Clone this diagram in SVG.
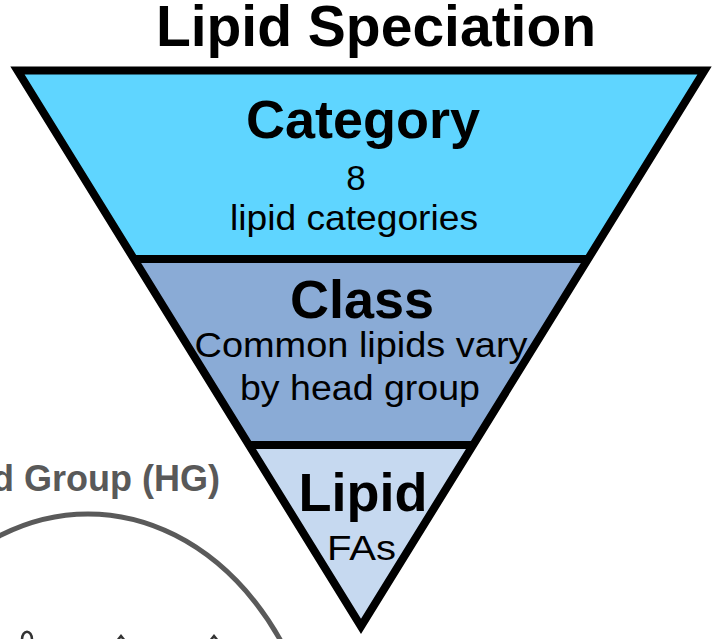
<svg xmlns="http://www.w3.org/2000/svg" width="712" height="639" viewBox="0 0 712 639">
<style>
.bold{font-family:"Liberation Sans",Arial,sans-serif;font-weight:bold;fill:#000;text-anchor:middle}
.reg{font-family:"Liberation Sans",Arial,sans-serif;font-size:35px;fill:#000;text-anchor:middle}
.edge{fill:none;stroke:#000;stroke-width:8;stroke-linejoin:miter;stroke-miterlimit:6}
.gray{stroke:#5a5a5a;fill:none}
</style>
<rect width="712" height="639" fill="#fff"/>
<g id="headgroup">
<text x="220" y="491" font-family="Liberation Sans, Arial, sans-serif" font-weight="bold" font-size="36" fill="#595959" text-anchor="end">d Group (HG)</text>
<ellipse cx="88" cy="814" rx="236" ry="300" class="gray" stroke-width="5"/>
<path d="M22,640 C22,629 32,629 32,640" fill="none" stroke="#333" stroke-width="2.5"/>
<path d="M117,641 L121,636 L125,641" fill="none" stroke="#333" stroke-width="2.5"/>
<path d="M210,641 L214,636 L218,641" fill="none" stroke="#333" stroke-width="2.5"/>
</g>
<text id="title" class="bold" x="376" y="46" font-size="57">Lipid Speciation</text>
<g id="category">
<polygon points="17.5,70.5 704.5,70.5 588,259 134,259" fill="#5fd5ff"/>
<text class="bold" x="363" y="138" font-size="54">Category</text>
<text class="reg" x="356" y="190">8</text>
<text class="reg" x="354" y="230" textLength="248" lengthAdjust="spacingAndGlyphs">lipid categories</text>
</g>
<g id="class">
<polygon points="134,259 588,259 473,445 249,445" fill="#8aabd6"/>
<text class="bold" x="362" y="318" font-size="54">Class</text>
<text class="reg" x="361" y="357" textLength="333" lengthAdjust="spacingAndGlyphs">Common lipids vary</text>
<text class="reg" x="360" y="400" textLength="240" lengthAdjust="spacingAndGlyphs">by head group</text>
</g>
<g id="lipid">
<polygon points="249,445 473,445 361,626.4" fill="#c6d9f0"/>
<text class="bold" x="363" y="511" font-size="54">Lipid</text>
<text class="reg" x="361.5" y="560" textLength="69" lengthAdjust="spacingAndGlyphs">FAs</text>
</g>
<g id="outline">
<polygon points="17.5,70.5 704.5,70.5 361,626.4" class="edge"/>
<line x1="134" y1="259" x2="588" y2="259" class="edge"/>
<line x1="249" y1="445" x2="473" y2="445" class="edge"/>
</g>
</svg>
